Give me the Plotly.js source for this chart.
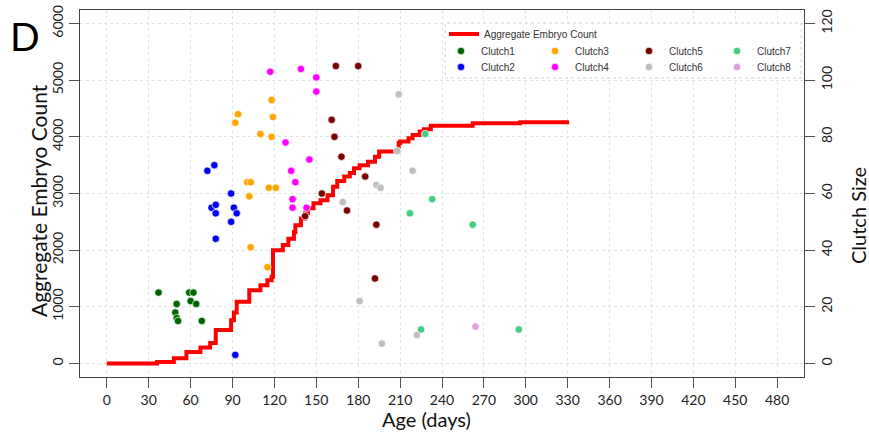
<!DOCTYPE html>
<html>
<head>
<meta charset="utf-8">
<script src="https://cdn.plot.ly/plotly-3.0.1.min.js"></script>
<style>html,body{margin:0;padding:0;background:#fff;}#chart{width:869px;height:432px;}</style>
</head>
<body>
<div id="chart"></div>
<script>
// Aggregate embryo count (step function), days vs count
var aggDays  = [0, 36, 48, 57, 67, 74, 78, 89, 91, 93, 102, 110, 115, 118, 119, 126, 130, 134, 135, 139, 142, 144, 148, 153, 158, 162, 165, 170, 174, 177, 181, 187, 192, 195, 209, 210, 216, 219, 224, 227, 232, 262, 296, 331];
var aggCount = [0, 25, 90, 200, 280, 360, 590, 760, 900, 1090, 1290, 1380, 1470, 1530, 2000, 2090, 2200, 2320, 2440, 2560, 2650, 2740, 2830, 2880, 2970, 3120, 3220, 3300, 3360, 3445, 3500, 3560, 3650, 3740, 3890, 3920, 3975, 4035, 4094, 4135, 4195, 4242, 4260, 4260];

// Clutches: age (days) vs clutch size
var clutch1Age  = [37, 59, 62, 50, 60, 64, 49, 50, 51, 68];
var clutch1Size = [25, 25, 25, 21, 22, 21, 18, 16, 15, 15];
var clutch2Age  = [72, 77, 75, 78, 78, 89, 91, 93, 89, 78, 92];
var clutch2Size = [68, 70, 55, 56, 53, 60, 55, 53, 50, 44, 3];
var clutch3Age  = [92, 94, 110, 118, 119, 118, 100.5, 103, 102, 116, 121, 103, 115];
var clutch3Size = [85, 88, 81, 93, 87, 80, 64, 64, 59, 62, 62, 41, 34];
var clutch4Age  = [117, 139, 150, 150, 128, 145, 132, 135, 133, 133, 143];
var clutch4Size = [103, 104, 101, 96, 78, 72, 68, 64, 58, 55, 55];
var clutch5Age  = [164, 180, 161, 163, 168, 185, 154, 172, 142, 193, 192];
var clutch5Size = [105, 105, 86, 80, 73, 66, 60, 54, 52, 49, 30];
var clutch6Age  = [209, 208, 219, 193, 196, 169, 181, 222, 197];
var clutch6Size = [95, 75, 68, 63, 62, 57, 22, 10, 7];
var clutch7Age  = [228, 233, 217, 225, 262, 295];
var clutch7Size = [81, 58, 53, 12, 49, 12];
var clutch8Age  = [264];
var clutch8Size = [13];

var clutchNames = ['Clutch1','Clutch2','Clutch3','Clutch4','Clutch5','Clutch6','Clutch7','Clutch8'];
var clutchAges  = [clutch1Age, clutch2Age, clutch3Age, clutch4Age, clutch5Age, clutch6Age, clutch7Age, clutch8Age];
var clutchSizes = [clutch1Size, clutch2Size, clutch3Size, clutch4Size, clutch5Size, clutch6Size, clutch7Size, clutch8Size];
var clutchColors = ['#006400', '#0000EE', '#FFA500', '#FF00FF', '#7A0000', '#BEBEBE', '#43CD80', '#DDA0DD'];

var xTicks = [0,30,60,90,120,150,180,210,240,270,300,330,360,390,420,450,480];

// geometry helpers (plot area in px)
var PL = 80, PR = 804, PT = 10, PB = 377;
function px2x(p){ return (p - PL) / (PR - PL); }
function py2y(p){ return (PB - p) / (PB - PT); }

var legFont = {family: 'Liberation Sans, Arial, sans-serif', size: 10, color: '#333'};
// legend text left-edge px and row center px
var legPos = [
  {tx: 484, ty: 34},  // aggregate
  {tx: 481, ty: 51},  // Clutch1
  {tx: 481, ty: 67},  // Clutch2
  {tx: 575, ty: 51},  // Clutch3
  {tx: 575, ty: 67},  // Clutch4
  {tx: 669, ty: 51},  // Clutch5
  {tx: 669, ty: 67},  // Clutch6
  {tx: 757, ty: 51},  // Clutch7
  {tx: 757, ty: 67}   // Clutch8
];

var data = [{
  type: 'scatter', mode: 'lines', name: 'Aggregate Embryo Count',
  x: aggDays, y: aggCount, line: {shape: 'hv', color: '#FF0000', width: 4},
  xaxis: 'x', yaxis: 'y', legend: 'legend', showlegend: true
}];
for (var i = 0; i < 8; i++) {
  data.push({
    type: 'scatter', mode: 'markers', name: clutchNames[i],
    x: clutchAges[i], y: clutchSizes[i], xaxis: 'x', yaxis: 'y2',
    marker: {color: clutchColors[i], size: 7.5, line: {color: '#ffffff', width: 0.7}},
    legend: 'legend' + (i + 2), showlegend: true
  });
}

var gridCol = '#e2e2e2';
var layout = {
  width: 869, height: 432, showlegend: true,
  margin: {l: PL, r: 869 - PR, t: PT, b: 432 - PB, pad: 0},
  paper_bgcolor: '#ffffff', plot_bgcolor: '#ffffff',
  font: {family: 'Lato, sans-serif', color: '#222'},
  xaxis: {
    range: [-19.2, 499.2], tickvals: xTicks, ticktext: xTicks.map(String),
    ticks: 'outside', ticklen: 10, tickcolor: '#555', tickwidth: 1,
    showline: true, linecolor: '#444', linewidth: 1, mirror: true,
    showgrid: true, gridcolor: gridCol, griddash: 'dot', gridwidth: 1,
    zeroline: false, tickfont: {family: 'Lato, sans-serif', size: 14, color: '#222'}
  },
  yaxis: {
    range: [-240, 6240], tick0: 0, dtick: 1000, tickangle: -90,
    ticks: 'outside', ticklen: 10, tickcolor: '#555', tickwidth: 1,
    showline: true, linecolor: '#444', linewidth: 1, mirror: true,
    showgrid: true, gridcolor: gridCol, griddash: 'dot', gridwidth: 1,
    zeroline: false, tickfont: {family: 'Lato, sans-serif', size: 14, color: '#222'}
  },
  yaxis2: {
    overlaying: 'y', side: 'right', anchor: 'x',
    range: [-4.8, 124.8], tick0: 0, dtick: 20, tickangle: -90,
    ticks: 'outside', ticklen: 10, tickcolor: '#555', tickwidth: 1,
    showline: false, showgrid: false, zeroline: false,
    tickfont: {family: 'Lato, sans-serif', size: 14, color: '#222'}
  },
  shapes: [{
    type: 'rect', xref: 'paper', yref: 'paper', layer: 'above',
    x0: px2x(445), x1: px2x(801), y0: py2y(78), y1: py2y(23),
    fillcolor: '#ffffff', line: {color: '#d0d0d0', width: 1, dash: 'dot'}
  }],
  annotations: [
    {text: 'D', xref: 'paper', yref: 'paper', x: px2x(8), y: py2y(36), xanchor: 'left', yanchor: 'middle',
     showarrow: false, font: {family: 'Lato, sans-serif', size: 39, color: '#000'}},
    {text: 'Aggregate Embryo Count', xref: 'paper', yref: 'paper', x: px2x(38), y: py2y(201), textangle: -90,
     xanchor: 'center', yanchor: 'middle', showarrow: false, font: {family: 'Lato, sans-serif', size: 21, color: '#111'}},
    {text: 'Clutch Size', xref: 'paper', yref: 'paper', x: px2x(858), y: py2y(216), textangle: -90,
     xanchor: 'center', yanchor: 'middle', showarrow: false, font: {family: 'Lato, sans-serif', size: 20, color: '#111'}},
    {text: 'Age (days)', xref: 'paper', yref: 'paper', x: px2x(426), y: py2y(419),
     xanchor: 'center', yanchor: 'middle', showarrow: false, font: {family: 'Lato, sans-serif', size: 20, color: '#111'}}
  ]
};

for (var k = 0; k < 9; k++) {
  var key = k === 0 ? 'legend' : 'legend' + (k + 1);
  layout[key] = {
    x: px2x(legPos[k].tx - 40), y: py2y(legPos[k].ty), xanchor: 'left', yanchor: 'middle',
    bgcolor: 'rgba(0,0,0,0)', borderwidth: 0, font: legFont
  };
}

Plotly.newPlot('chart', data, layout, {displayModeBar: false, staticPlot: true});
</script>
</body>
</html>
